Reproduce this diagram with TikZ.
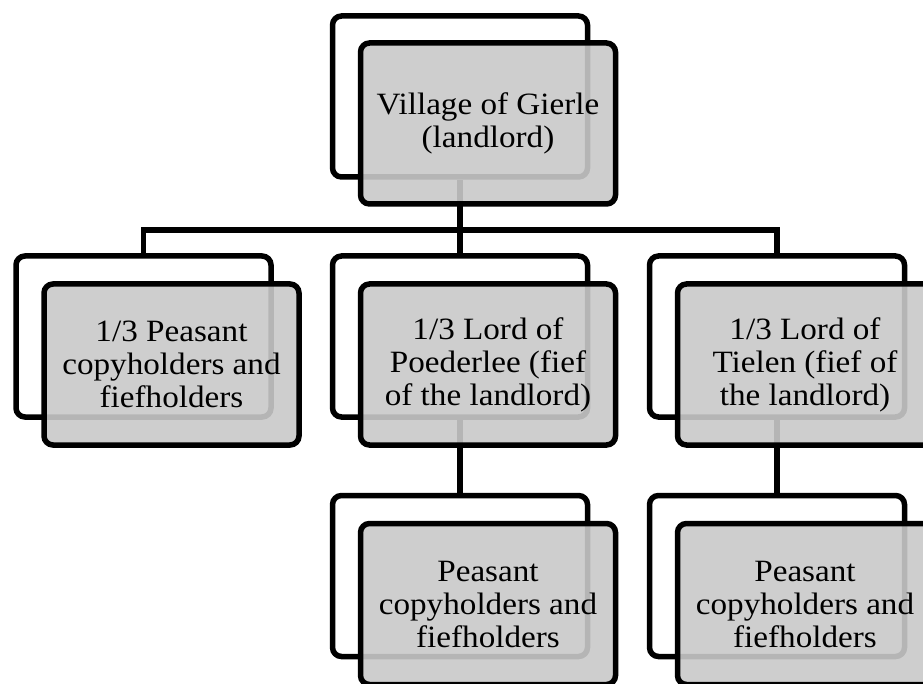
\documentclass[tikz,border=0pt]{standalone}
\usepackage{fontspec}
\setmainfont{Liberation Serif}[FakeStretch=1.07]
\definecolor{boxgray}{gray}{0.79}

\begin{document}
\begin{tikzpicture}[x=1pt,y=1pt,
  back node/.style={rectangle,draw,line width=5.5pt,rounded corners=9pt,fill=white,
    minimum width=255pt,minimum height=161pt,inner sep=0pt},
  front node/.style={back node,fill=boxgray,fill opacity=.9,text opacity=1,
    align=center,font=\fontsize{31}{33}\selectfont},
  link/.style={line width=5.5pt}]

  \useasboundingbox (0,0) rectangle (923,-684);
  \clip (0,0) rectangle (923,-684);

  % frames behind
  \node[back node] (0b) at (460,-96.5) {};
  \node[back node] (1b) at (143.5,-336.5) {};
  \node[back node] (2b) at (460,-336.5) {};
  \node[back node] (3b) at (777,-336.5) {};
  \node[back node] (4b) at (460,-576) {};
  \node[back node] (5b) at (777,-576) {};

  % connectors
  \coordinate (bus) at (0,-230);
  \draw[link] (1b.north) -- (1b.north |- bus) -- (3b.north |- bus) -- (3b.north);
  \path[link]
  (0b) edge (2b)
  (2b) edge (4b)
  (3b) edge (5b);

  % grey boxes with the text
  \node[front node] (0) at ([shift={(28,-27)}]0b.center) {Village of Gierle\\(landlord)};
  \node[front node] (1) at ([shift={(28,-28)}]1b.center) {1/3 Peasant\\copyholders and\\fiefholders};
  \node[front node] (2) at ([shift={(28,-28)}]2b.center) {1/3 Lord of\\Poederlee (fief\\of the landlord)};
  \node[front node] (3) at ([shift={(28,-28)}]3b.center) {1/3 Lord of\\Tielen (fief of\\the landlord)};
  \node[front node] (4) at ([shift={(28,-28)}]4b.center) {Peasant\\copyholders and\\fiefholders};
  \node[front node] (5) at ([shift={(28,-28)}]5b.center) {Peasant\\copyholders and\\fiefholders};
\end{tikzpicture}
\end{document}
